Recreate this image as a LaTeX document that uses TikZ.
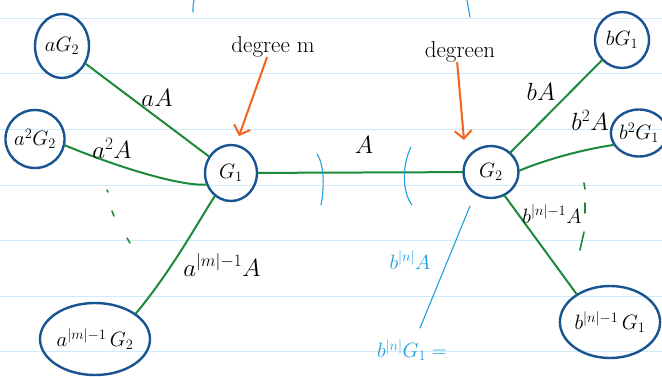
\documentclass[tikz,border=0pt]{standalone}
\usetikzlibrary{shapes.geometric,arrows.meta}
\definecolor{nodeblue}{RGB}{24,84,145}
\definecolor{edgegreen}{RGB}{28,138,58}
\definecolor{penorange}{RGB}{242,100,28}
\definecolor{annblue}{RGB}{32,160,222}
\definecolor{ruled}{RGB}{208,234,249}
\begin{document}
\begin{tikzpicture}[x=1pt,y=-1pt,
  gnode/.style={ellipse,draw=nodeblue,line width=2.4pt,inner sep=0pt,font=\fontsize{21}{24}\selectfont},
  gedge/.style={draw=edgegreen,line width=2pt,line cap=round},
  lab/.style={inner sep=0pt,font=\fontsize{24}{26}\selectfont},
  annlab/.style={inner sep=0pt,text=annblue,font=\fontsize{22}{24}\selectfont},
  annline/.style={draw=annblue,line width=1.1pt,line cap=round},
  oarrow/.style={draw=penorange,line width=2pt,line cap=round,-{Straight Barb[length=8pt,width=17pt,line width=2pt]}},
  dashmark/.style={draw=edgegreen,line width=1.6pt,line cap=round}]
\useasboundingbox[fill=white] (0,0) rectangle (662,376);
\foreach \yy in {18,73,129,185,240,296,351}
  \draw[ruled,line width=1pt] (0,\yy) -- (662,\yy);

% nodes
\node[gnode,minimum width=54pt,minimum height=64pt] (aG2) at (62,46) {$aG_2$};
\node[gnode,minimum width=52pt,minimum height=58pt] (a2G2) at (35,139) {$a^2G_2$};
\node[gnode,minimum width=52pt,minimum height=56pt] (G1) at (231,173) {$G_1$};
\node[gnode,minimum width=110pt,minimum height=72pt] (am1G2) at (95,339) {$a^{|m|-1}\,G_2$};
\node[gnode,minimum width=55pt,minimum height=52pt] (G2) at (491,172) {$G_2$};
\node[gnode,minimum width=54pt,minimum height=56pt] (bG1) at (622,40) {$bG_1$};
\node[gnode,minimum width=48pt,minimum height=47pt] (b2G1) at (639,133) {$b^2G_1$};
\node[gnode,minimum width=78pt,minimum height=72pt] (bn1G1) at (610,322) {$b^{|n|-1}\,G_1$};

% edges
\draw[gedge] (aG2) -- (G1);
\draw[gedge] (a2G2.-12) .. controls (120,168) and (180,186) .. (G1.205);
\draw[gedge] (am1G2.32) .. controls (172,270) and (198,222) .. (G1.235);
\draw[gedge] (G1) -- (G2);
\draw[gedge] (G2) -- (bG1);
\draw[gedge] (G2.3) .. controls (545,160) and (580,150) .. (b2G1.205);
\draw[gedge] (G2.-60) -- (bn1G1.140);

% edge labels
\node[lab] (laA) at (157,98) {$aA$};
\node[lab] (la2A) at (112,148) {$a^2A$};
\node[lab] (lA) at (364,145) {$A$};
\node[lab] (lam1A) at (222,265) {$a^{|m|-1}A$};
\node[lab] (lbA) at (541,92) {$bA$};
\node[lab] (lb2A) at (590,120) {$b^2A$};
\node[lab,font=\fontsize{21}{24}\selectfont] (lbn1A) at (552,214) {$b^{|n|-1}A$};

% degree annotations
\node[lab,font=\fontsize{23}{25}\selectfont] (degm) at (273,47) {degree m};
\node[lab,font=\fontsize{23}{25}\selectfont] (degn) at (460,52) {degreen};
\coordinate (tipm) at (239,136);
\coordinate (tipn) at (464,140);
\draw[oarrow] (degm.240) -- (tipm);
\draw[oarrow] (degn.255) -- (tipn);

% blue annotations
\draw[annline] (317,154) .. controls (325,166) and (324,190) .. (321,205);
\draw[annline] (411,147) .. controls (402,165) and (402,192) .. (412,205);
\draw[annline] (194,0) .. controls (193,5) .. (193,12);
\draw[annline] (467,0) .. controls (468,8) .. (470,17);
\coordinate (bl0) at (470,206);
\coordinate (bl1) at (420,328);
\draw[annline] (bl0) -- (bl1);
\node[annlab] (lbnA) at (410,260) {$b^{|n|}A$};
\node[annlab] (lbnG) at (412,350) {$b^{|n|}G_1 =$};

% dotted continuation marks
\draw[dashmark] (107,190) -- (108,192);
\draw[dashmark] (112,211) -- (114,216);
\draw[dashmark] (127,238) -- (130,243);
\draw[dashmark] (584,183) -- (585,189);
\draw[dashmark] (585,203) -- (585,213);
\draw[dashmark] (584,232) -- (580,250);
\end{tikzpicture}
\end{document}
